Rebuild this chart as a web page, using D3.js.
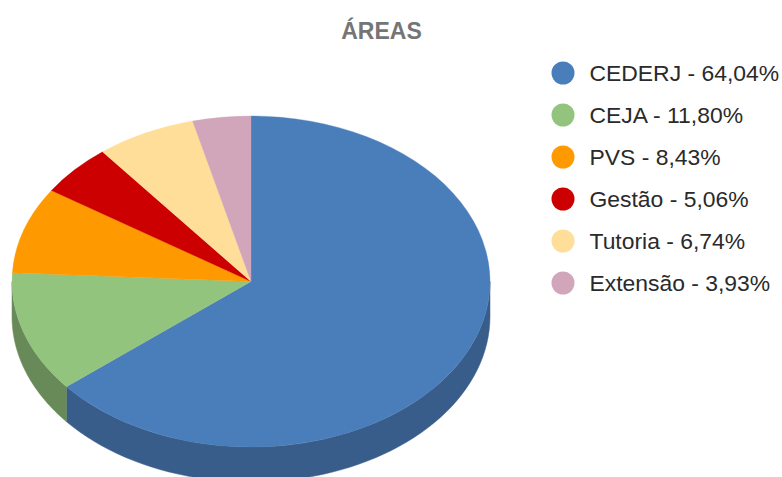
<!DOCTYPE html>
<html>
<head>
<meta charset="utf-8">
<style>
  html, body { margin: 0; padding: 0; background: #fff; overflow: hidden; }
  text { font-family: "Liberation Sans", Arial, sans-serif; }
</style>
<script src="https://cdn.jsdelivr.net/npm/d3@7"></script>
</head>
<body>
<div class="chart"></div>
<script>
var categories = ["CEDERJ", "CEJA", "PVS", "Gestão", "Tutoria", "Extensão"];
var values = [64.04, 11.80, 8.43, 5.06, 6.74, 3.93];
var topColors = ["#4A7EBB", "#93C47D", "#FF9900", "#CC0000", "#FFDE99", "#D1A6BA"];
var sideColors = ["#385D8A", "#688A59", "#B36B00", "#8F0000", "#B39B6B", "#957484"];

var svgWidth = 782;
var svgHeight = 477;

var cx = 251;
var cy = 281.5;
var rx = 239;
var ry = 165.5;
var depth = 35;

var svg = d3
  .select(".chart")
  .append("svg")
  .attr("width", svgWidth)
  .attr("height", svgHeight)
  .style("display", "block");

var color = d3.scaleOrdinal().domain(categories).range(topColors);
var sideColor = d3.scaleOrdinal().domain(categories).range(sideColors);

var pie = d3.pie().sort(null).value(function(d, i) { return values[i]; });
var slices = pie(categories);

// front wall of the tilted pie, only the part facing the viewer
var wallLine = d3.line();

function wallPath(d) {
  var a0 = Math.max(d.startAngle, Math.PI / 2);
  var a1 = Math.min(d.endAngle, Math.PI * 1.5);
  if (a1 <= a0) return null;
  var steps = d3.range(0, 61).map(function(i) { return a0 + (a1 - a0) * i / 60; });
  var upper = steps.map(function(a) {
    return [cx + rx * Math.sin(a), cy - ry * Math.cos(a)];
  });
  var lower = steps.slice().reverse().map(function(a) {
    return [cx + rx * Math.sin(a), cy - ry * Math.cos(a) + depth];
  });
  return wallLine(upper.concat(lower)) + "Z";
}

var walls = svg.append("g").attr("class", "walls");

walls
  .selectAll("path")
  .data(slices.filter(function(d) { return wallPath(d) !== null; }))
  .enter()
  .append("path")
  .attr("d", wallPath)
  .attr("fill", function(d) { return sideColor(d.data); })
  .attr("stroke", function(d) { return sideColor(d.data); })
  .attr("stroke-width", 0.5);

var arc = d3.arc().innerRadius(0).outerRadius(rx);

var pieTop = svg
  .append("g")
  .attr("transform", "translate(" + cx + "," + cy + ") scale(1," + ry / rx + ")");

pieTop
  .selectAll("path")
  .data(slices)
  .enter()
  .append("path")
  .attr("d", arc)
  .attr("fill", function(d) { return color(d.data); })
  .attr("stroke", function(d) { return color(d.data); })
  .attr("stroke-width", 0.4);

svg
  .append("text")
  .attr("x", 381.5)
  .attr("y", 38.5)
  .attr("text-anchor", "middle")
  .attr("font-size", 23)
  .attr("font-weight", "bold")
  .attr("fill", "#757575")
  .text("ÁREAS");

var legendY = d3.scalePoint().domain(categories).range([73, 283]);

var legend = svg
  .selectAll(".legend")
  .data(categories)
  .enter()
  .append("g")
  .attr("class", "legend")
  .attr("transform", function(d) { return "translate(563," + legendY(d) + ")"; });

legend
  .append("circle")
  .attr("r", 11.5)
  .attr("fill", function(d) { return color(d); });

legend
  .append("text")
  .attr("x", 26.5)
  .attr("y", 8)
  .attr("font-size", 22.9)
  .attr("fill", "#2a2a2a")
  .text(function(d, i) {
    return d + " - " + values[i].toFixed(2).replace(".", ",") + "%";
  });
</script>
</body>
</html>
